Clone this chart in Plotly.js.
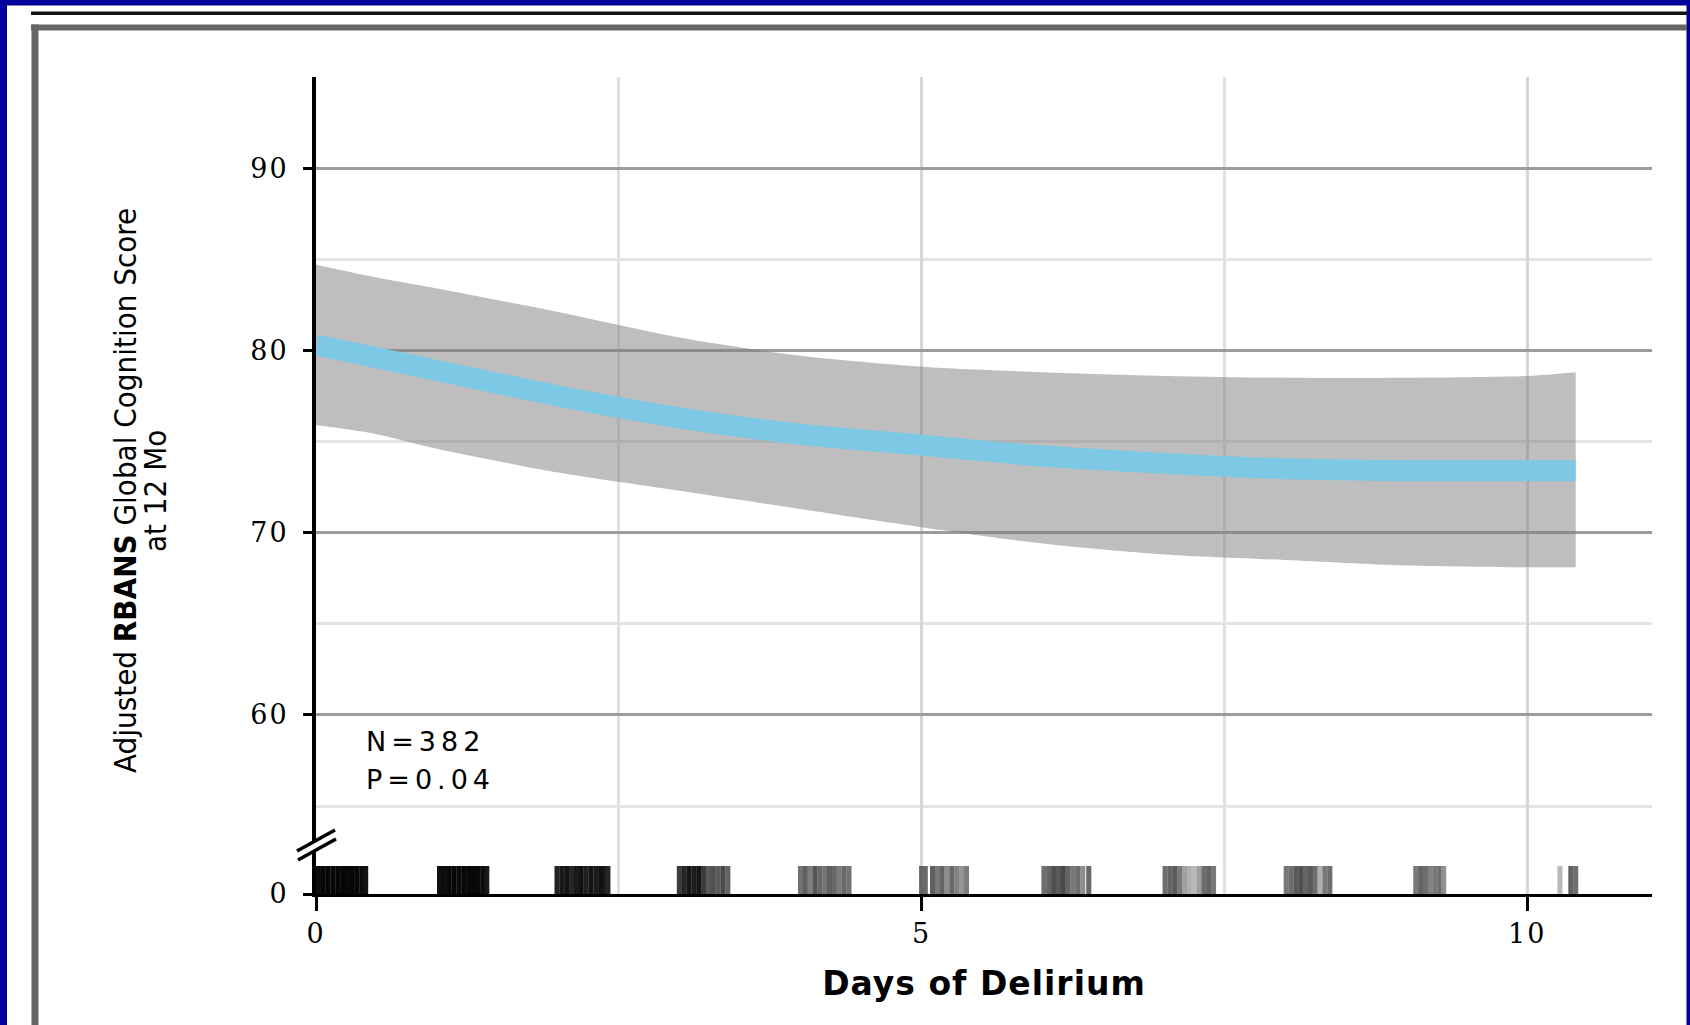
<!DOCTYPE html>
<html>
<head>
<meta charset="utf-8">
<script src="https://cdn.plot.ly/plotly-3.0.1.min.js"></script>
<style>
  html, body { margin: 0; padding: 0; background: #ffffff; }
  #chart { width: 1690px; height: 1025px; }
</style>
</head>
<body>
<div id="chart"></div>
<script>
// ---------------- data ----------------
const days      = [0, 0.5, 1, 2, 3, 4, 5, 6, 7, 8, 9, 10, 10.4];
const fitScore  = [80.3, 79.6, 78.9, 77.5, 76.3, 75.4, 74.8, 74.2, 73.8, 73.5, 73.4, 73.4, 73.4];
const upperCI   = [84.7, 84.0, 83.4, 82.1, 80.7, 79.7, 79.1, 78.8, 78.6, 78.5, 78.5, 78.6, 78.8];
const lowerCI   = [75.9, 75.4, 74.6, 73.3, 72.3, 71.3, 70.3, 69.4, 68.8, 68.5, 68.2, 68.1, 68.1];

// rug of individual patients' days of delirium (position, grey level 0-255)
const rugX = [
  0.02, 0.06, 0.10, 0.14, 0.18, 0.22, 0.26, 0.30, 0.34, 0.38, 0.41,
  1.02, 1.06, 1.10, 1.14, 1.18, 1.22, 1.26, 1.30, 1.34, 1.38, 1.41,
  1.99, 2.03, 2.07, 2.11, 2.15, 2.19, 2.23, 2.27, 2.31, 2.35, 2.39, 2.41,
  3.00, 3.04, 3.08, 3.12, 3.16, 3.20, 3.24, 3.28, 3.32, 3.36, 3.40,
  4.00, 4.04, 4.08, 4.12, 4.16, 4.20, 4.24, 4.28, 4.32, 4.36, 4.40,
  5.00, 5.03, 5.09, 5.13, 5.17, 5.21, 5.25, 5.29, 5.33, 5.37,
  6.01, 6.05, 6.09, 6.13, 6.17, 6.21, 6.25, 6.29, 6.33, 6.38,
  7.01, 7.05, 7.09, 7.13, 7.17, 7.21, 7.25, 7.29, 7.33, 7.37, 7.41,
  8.01, 8.05, 8.09, 8.13, 8.17, 8.21, 8.25, 8.29, 8.33, 8.37,
  9.08, 9.12, 9.16, 9.20, 9.24, 9.28, 9.31,
  10.27, 10.36, 10.40
];
const rugGrey = [
  12, 8, 6, 6, 8, 6, 8, 6, 8, 10, 18,
  15, 12, 8, 8, 10, 8, 8, 8, 10, 12, 25,
  35, 25, 20, 38, 25, 18, 32, 20, 28, 18, 25, 38,
  60, 38, 22, 28, 22, 60, 90, 80, 90, 75, 100,
  115, 95, 125, 85, 105, 115, 95, 105, 125, 105, 115,
  100, 105, 95, 120, 100, 140, 105, 130, 150, 125,
  110, 100, 80, 90, 75, 100, 120, 110, 140, 105,
  110, 100, 90, 120, 160, 175, 185, 160, 110, 100, 120,
  120, 110, 90, 80, 100, 90, 110, 175, 120, 110,
  120, 100, 110, 130, 120, 110, 145,
  185, 100, 110
];
const xTicks = [0, 5, 10];
const yTicks = [60, 70, 80, 90];
const yTitle1 = 'Adjusted <b>RBANS</b> Global Cognition Score';
const yTitle2 = 'at 12 Mo';
const nText = "N=382";
const pText = "P=0.04";

// ---------------- geometry helpers (pixel -> paper) ----------------
const M = { l: 316, r: 38, t: 77, b: 131 };
const W = 1690 - M.l - M.r, H = 1025 - M.t - M.b;
const PX = px => (px - M.l) / W;
const PY = py => (1025 - M.b - py) / H;
const splitFrac = 49 / H;   // main panel / rug panel junction

const rect = (x0, y0, x1, y1, color) => ({
  type: 'rect', xref: 'paper', yref: 'paper',
  x0: PX(x0), x1: PX(x1), y0: PY(y0), y1: PY(y1),
  fillcolor: color, line: { width: 0 }, layer: 'above'
});

const traces = [
  { x: days, y: upperCI, type: 'scatter', mode: 'lines',
    line: { width: 0, shape: 'spline', smoothing: 0.8, color: 'rgba(0,0,0,0)' },
    hoverinfo: 'skip', showlegend: false, xaxis: 'x', yaxis: 'y' },
  { x: days, y: lowerCI, type: 'scatter', mode: 'lines', fill: 'tonexty',
    fillcolor: 'rgba(126,126,126,0.5)',
    line: { width: 0, shape: 'spline', smoothing: 0.8, color: 'rgba(0,0,0,0)' },
    hoverinfo: 'skip', showlegend: false, xaxis: 'x', yaxis: 'y' },
  { x: days, y: fitScore, type: 'scatter', mode: 'lines',
    line: { width: 21, shape: 'spline', smoothing: 0.8, color: '#7dc8e4' },
    showlegend: false, xaxis: 'x', yaxis: 'y' },
  { x: rugX, y: rugX.map(() => 1), base: 0, type: 'bar',
    width: 0.042, marker: { color: rugGrey.map(g => `rgb(${g},${g},${g})`), line: { width: 0 } },
    showlegend: false, xaxis: 'x', yaxis: 'y2' }
];

const tickFont = { family: 'DejaVu Serif, serif', size: 27, color: '#000' };
const titleFont = { family: 'DejaVu Sans Condensed, DejaVu Sans, sans-serif', size: 31, color: '#000' };
const noteFont = { family: 'DejaVu Sans, sans-serif', size: 27, color: '#000' };

const layout = {
  width: 1690, height: 1025,
  margin: M,
  paper_bgcolor: '#ffffff', plot_bgcolor: '#ffffff',
  showlegend: false, barmode: 'overlay',
  font: { family: 'DejaVu Serif, serif', color: '#000000', size: 24 },
  xaxis: {
    anchor: 'y2', range: [0, 11.03],
    tickmode: 'linear', tick0: xTicks[0], dtick: xTicks[1] - xTicks[0],
    ticks: 'outside', ticklen: 14, tickwidth: 3, tickcolor: '#000',
    showline: true, linecolor: '#000', linewidth: 3,
    showgrid: true, gridcolor: '#d6d6d6', gridwidth: 3, zeroline: false,
    minor: { dtick: 2.5, tick0: 0, showgrid: true, gridcolor: '#e0e0e0', gridwidth: 3, ticks: '' },
    tickfont: tickFont,
    title: { text: 'Days of Delirium', standoff: 24,
      font: { family: 'DejaVu Sans, sans-serif', size: 33, weight: 'bold', color: '#000' } }
  },
  yaxis: {
    domain: [splitFrac, 1], range: [52.86, 95], anchor: 'x',
    tickmode: 'array', tickvals: yTicks, ticktext: yTicks.map(String),
    ticks: 'outside', ticklen: 9, tickwidth: 3, tickcolor: '#000', ticklabelstandoff: 9,
    showline: true, linecolor: '#000', linewidth: 4,
    showgrid: true, gridcolor: '#9c9c9c', gridwidth: 3, zeroline: false,
    minor: { tickmode: 'array', tickvals: [55, 65, 75, 85, 95], showgrid: true, gridcolor: '#e4e4e4', gridwidth: 3, ticks: '' },
    tickfont: tickFont
  },
  yaxis2: {
    domain: [0, splitFrac], range: [0, 1.75], anchor: 'x',
    tickmode: 'array', tickvals: [0], ticktext: ['0'],
    ticks: 'outside', ticklen: 9, tickwidth: 3, tickcolor: '#000', ticklabelstandoff: 9,
    showline: true, linecolor: '#000', linewidth: 4,
    showgrid: false, zeroline: false,
    tickfont: tickFont
  },
  annotations: [
    { xref: 'paper', yref: 'paper', x: PX(125), y: PY(491), textangle: -90,
      xanchor: 'center', yanchor: 'middle', showarrow: false,
      text: yTitle1, font: titleFont },
    { xref: 'paper', yref: 'paper', x: PX(155), y: PY(491), textangle: -90,
      xanchor: 'center', yanchor: 'middle', showarrow: false,
      text: yTitle2, font: titleFont },
    { xref: 'paper', yref: 'paper', x: PX(364), y: PY(741), xanchor: 'left', yanchor: 'middle',
      showarrow: false, text: nText, align: 'left', font: noteFont },
    { xref: 'paper', yref: 'paper', x: PX(364), y: PY(779), xanchor: 'left', yanchor: 'middle',
      showarrow: false, text: pText, align: 'left', font: noteFont }
  ],
  shapes: [
    // outer blue border
    rect(0, 0, 1690, 5.5, '#00009c'),
    rect(0, 0, 7, 1025, '#00009c'),
    rect(1686.5, 0, 1690, 1025, '#00009c'),
    // black rule and grey frame
    rect(31, 11.5, 1687, 15, '#111111'),
    rect(31, 24.5, 1687, 30.5, '#666666'),
    rect(31.5, 24.5, 38.5, 1025, '#666666'),
    // axis break
    { type: 'path', xref: 'paper', yref: 'paper', layer: 'above',
      path: `M ${PX(299)} ${PY(850)} L ${PX(334)} ${PY(831)} L ${PX(335)} ${PY(839)} L ${PX(300)} ${PY(858)} Z`,
      fillcolor: '#ffffff', line: { width: 0 } },
    { type: 'line', xref: 'paper', yref: 'paper', layer: 'above',
      x0: PX(297), y0: PY(851), x1: PX(335), y1: PY(830), line: { color: '#000', width: 3.5 } },
    { type: 'line', xref: 'paper', yref: 'paper', layer: 'above',
      x0: PX(298), y0: PY(860), x1: PX(336), y1: PY(839), line: { color: '#000', width: 3.5 } }
  ]
};

Plotly.newPlot('chart', traces, layout, { staticPlot: true, displayModeBar: false }).then(() => {
  // the original typesetting is widely letter-spaced
  document.querySelectorAll('.annotation-text').forEach(t => {
    const s = t.textContent;
    if (s === nText || s === pText) t.style.letterSpacing = '5px';
  });
  document.querySelectorAll('.xtick text, .ytick text, .y2tick text').forEach(t => {
    t.style.letterSpacing = '2px';
  });
  document.querySelectorAll('.g-xtitle text').forEach(t => { t.style.letterSpacing = '1px'; });
});
</script>
</body>
</html>
